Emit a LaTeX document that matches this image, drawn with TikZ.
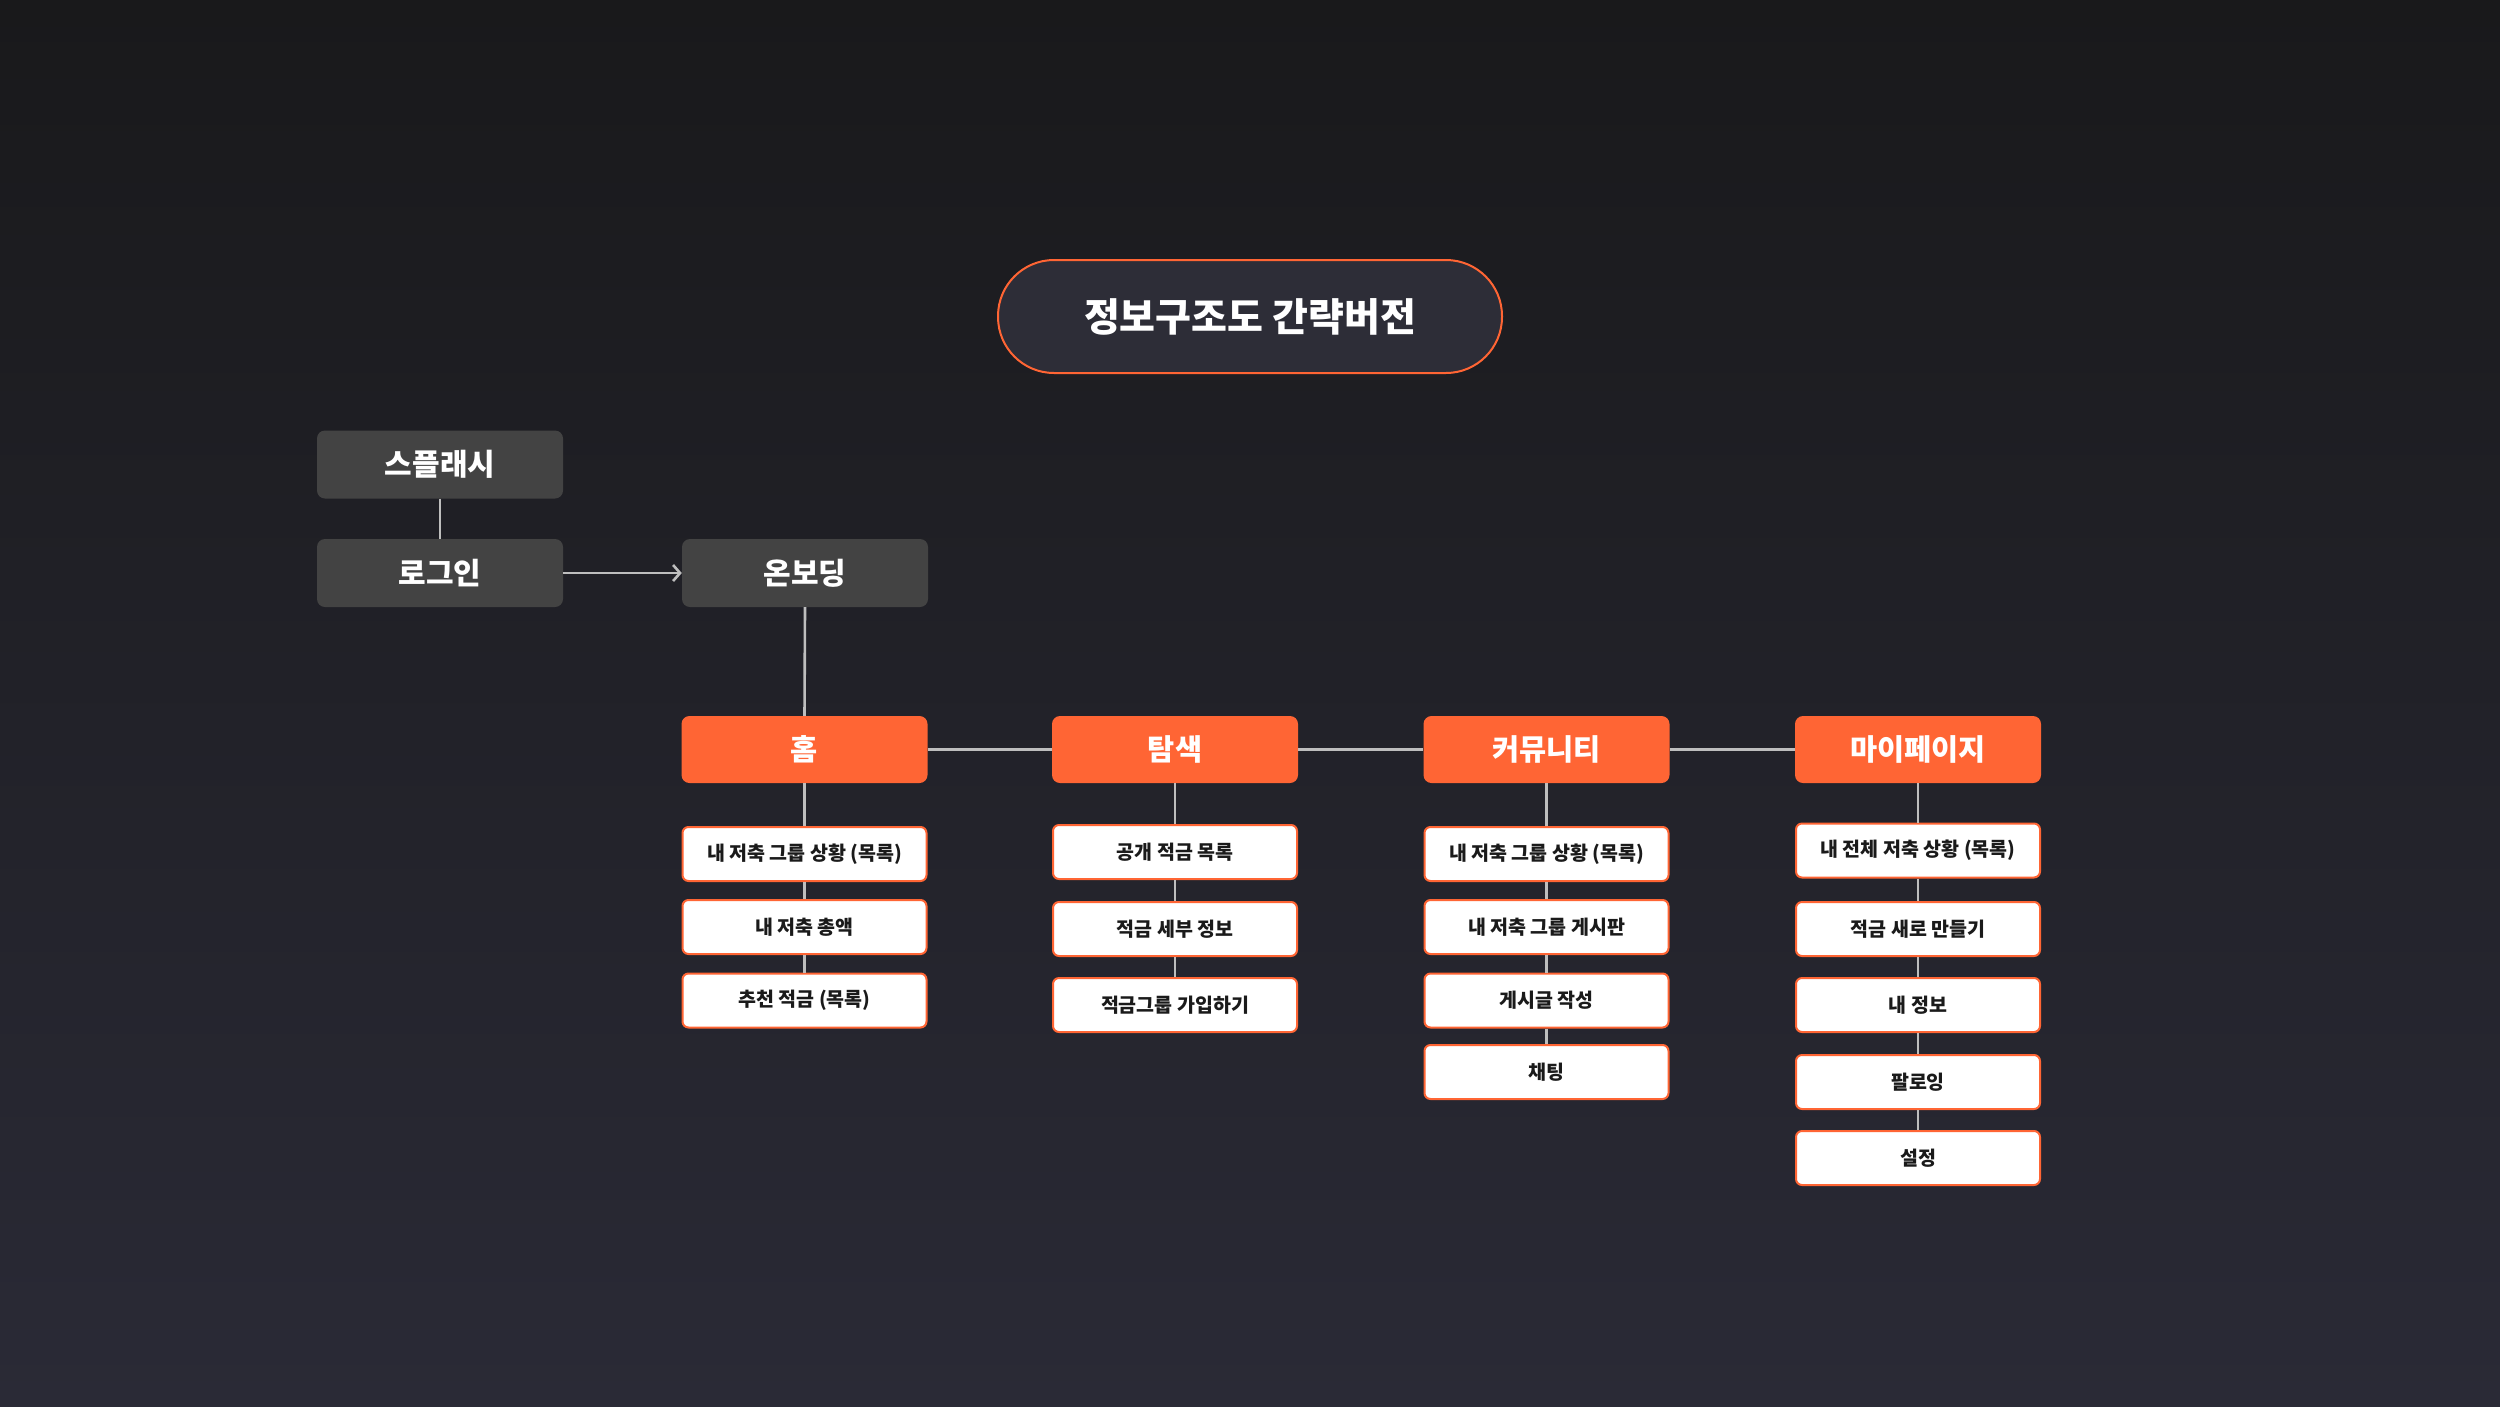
\documentclass[tikz,border=0pt]{standalone}
\usepackage{fontspec}
\setmainfont{Noto Sans CJK KR}
\usetikzlibrary{arrows.meta}
\definecolor{bgtop}{HTML}{19191B}
\definecolor{bgbot}{HTML}{2A2A36}
\definecolor{accent}{HTML}{FF6534}
\definecolor{graybox}{HTML}{434343}
\definecolor{pillfill}{HTML}{2D2D37}
\definecolor{linec}{HTML}{BEBEBE}
\definecolor{txtdark}{HTML}{1A1A1A}
\tikzset{
  pill/.style={draw=accent, line width=2pt, fill=pillfill, rounded corners=56pt,
    minimum width=504pt, minimum height=113pt, inner sep=0pt, text=white,
    font=\fontsize{39}{42}\selectfont\bfseries},
  graynode/.style={fill=graybox, rounded corners=8pt, minimum width=246pt,
    minimum height=68pt, inner sep=0pt, text=white, font=\fontsize{30}{33}\selectfont\bfseries},
  mainnode/.style={fill=accent, rounded corners=8pt, minimum width=246pt,
    minimum height=67pt, inner sep=0pt, text=white, font=\fontsize{29.5}{32}\selectfont\bfseries},
  subnode/.style={fill=white, draw=accent, line width=2pt, rounded corners=6pt,
    minimum width=244pt, minimum height=54pt, inner sep=0pt, text=txtdark,
    font=\fontsize{19.5}{22}\selectfont\bfseries},
  conn/.style={draw=linec, line width=2.6pt},
}
\begin{document}
\begin{tikzpicture}[x=1pt,y=-1pt]
\useasboundingbox (0,0) rectangle (2500,1406);
\shade[top color=bgtop, bottom color=bgbot] (0,0) rectangle (2500,1406);

\node[pill] (title) at (1250,316.5) {정보구조도 간략버전};

\node[graynode] (splash) at (440,464.5) {스플래시};
\node[graynode] (login) at (440,573) {로그인};
\node[graynode] (onboard) at (805,573) {온보딩};

\node[mainnode] (home) at (804.5,749.5) {홈};
\node[mainnode] (explore) at (1175,749.5) {탐색};
\node[mainnode] (comm) at (1546.5,749.5) {커뮤니티};
\node[mainnode] (mypage) at (1918,749.5) {마이페이지};

\node[subnode] (h1) at (804.5,854) {내 저축 그룹 상황 (목록)};
\node[subnode] (h2) at (804.5,927) {내 저축 총액};
\node[subnode] (h3) at (804.5,1000.5) {추천 적금 (목록)};

\node[subnode] (e1) at (1175,852) {공개 적금 목록};
\node[subnode] (e2) at (1175,929) {적금 세부 정보};
\node[subnode] (e3) at (1175,1005) {적금그룹 가입하기};

\node[subnode] (c1) at (1546.5,854) {내 저축 그룹 상황 (목록)};
\node[subnode] (c2) at (1546.5,927) {내 저축 그룹 게시판};
\node[subnode] (c3) at (1546.5,1000.5) {게시글 작성};
\node[subnode] (c4) at (1546.5,1072) {채팅};

\node[subnode] (m1) at (1918,850.5) {내 전체 저축 상황 (목록)};
\node[subnode] (m2) at (1918,929) {적금 새로 만들기};
\node[subnode] (m3) at (1918,1005) {내 정보};
\node[subnode] (m4) at (1918,1082) {팔로잉};
\node[subnode] (m5) at (1918,1158) {설정};

\draw[conn] (splash.south) -- (login.north);
\draw[conn, -{Straight Barb[length=7pt,width=16pt,line width=2.6pt]}] (login.east) -- (onboard.west);
\draw[conn] (onboard.south) -- (home.north);
\draw[conn] (home.east) -- (explore.west);
\draw[conn] (explore.east) -- (comm.west);
\draw[conn] (comm.east) -- (mypage.west);
\draw[conn] (home.south) -- (h1.north);
\draw[conn] (h1.south) -- (h2.north);
\draw[conn] (h2.south) -- (h3.north);
\draw[conn] (explore.south) -- (e1.north);
\draw[conn] (e1.south) -- (e2.north);
\draw[conn] (e2.south) -- (e3.north);
\draw[conn] (comm.south) -- (c1.north);
\draw[conn] (c1.south) -- (c2.north);
\draw[conn] (c2.south) -- (c3.north);
\draw[conn] (c3.south) -- (c4.north);
\draw[conn] (mypage.south) -- (m1.north);
\draw[conn] (m1.south) -- (m2.north);
\draw[conn] (m2.south) -- (m3.north);
\draw[conn] (m3.south) -- (m4.north);
\draw[conn] (m4.south) -- (m5.north);
\end{tikzpicture}
\end{document}
